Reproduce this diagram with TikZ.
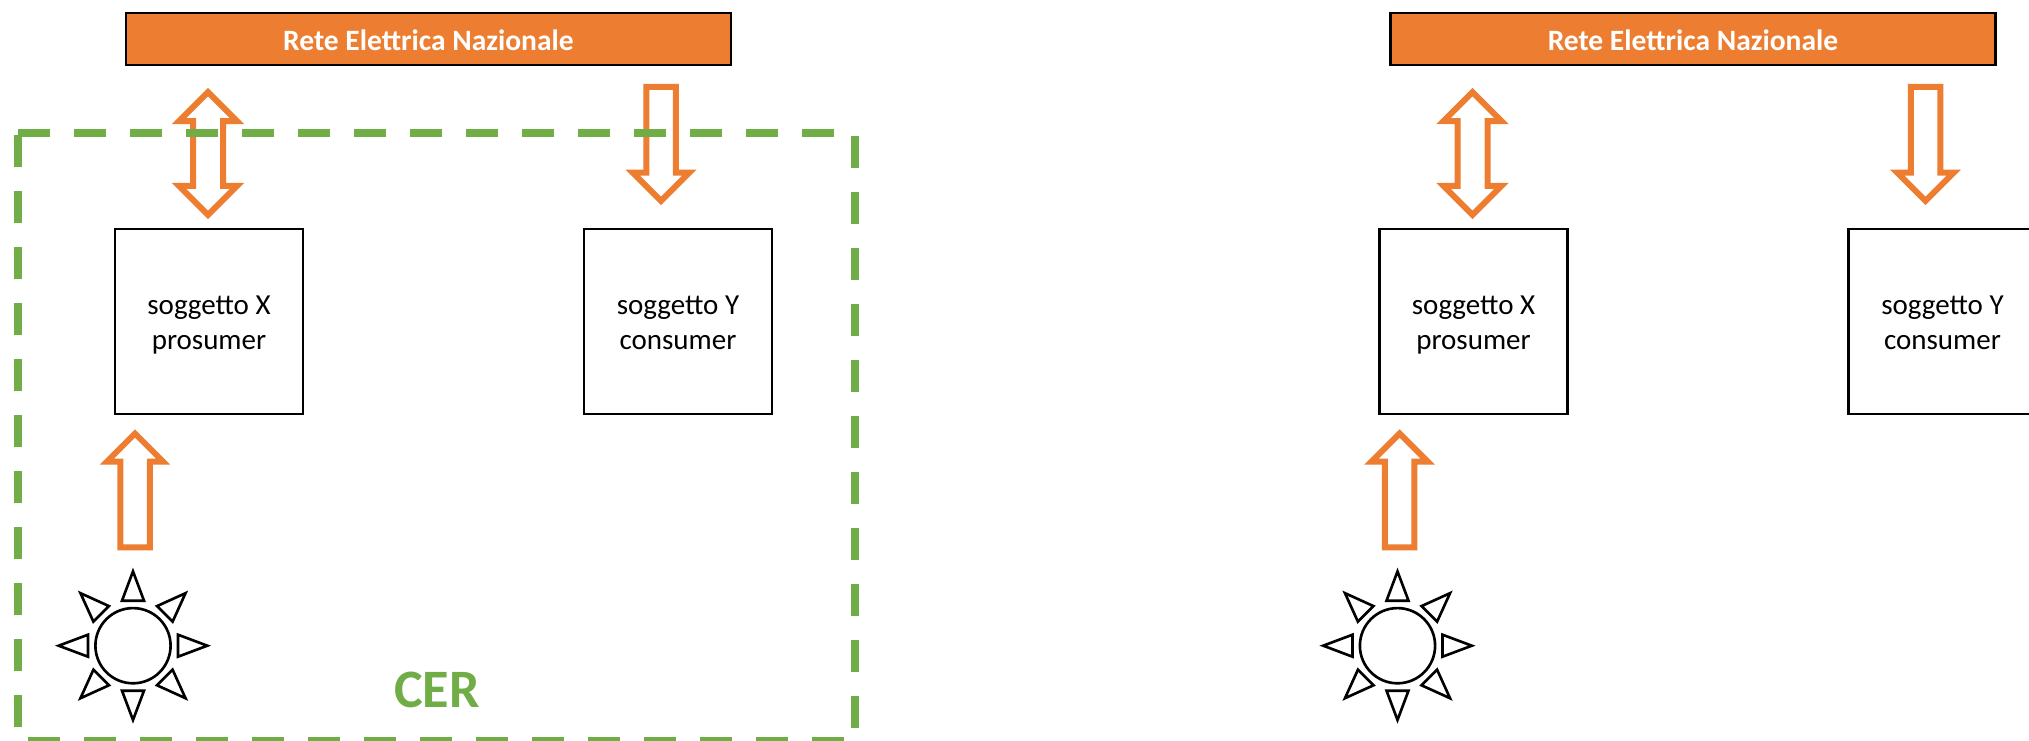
\documentclass[tikz,border=0pt]{standalone}
\usepackage{fontspec}
\setmainfont{Carlito}
\usepackage{xcolor}
\usetikzlibrary{shapes.arrows}
\definecolor{gridorange}{HTML}{ED7D31}
\definecolor{cergreen}{HTML}{70AD47}
\tikzset{
    gridbar/.style={rectangle, draw, line width=1.5pt, outer sep=0pt, fill=gridorange, text=white, minimum width=12.1cm, minimum height=1.04cm, text height=15pt, text depth=1.48pt, font=\fontsize{16.8}{20}\selectfont\bfseries},
    subject/.style={rectangle, draw, line width=1.5pt, outer sep=0pt, minimum width=3.76cm, minimum height=3.7cm, align=center, text height=33.5pt, text depth=1.48pt, font=\fontsize{16.5}{20}\selectfont},
    flowarrow/.style={single arrow, draw=gridorange, line width=0.12cm, outer sep=0pt, inner sep=0.235cm, anchor=tail, minimum height=2.276cm, single arrow head extend=0.27cm, single arrow tip angle=90},
    flowboth/.style={double arrow, draw=gridorange, line width=0.12cm, outer sep=0pt, inner sep=0.24cm, rotate=90, minimum height=2.452cm, double arrow head extend=0.28cm, double arrow tip angle=90},
    sundisc/.style={circle, draw, line width=1.5pt, outer sep=0pt, inner sep=0pt, minimum size=1.504cm},
    sunray/.style={draw, line width=1.5pt}
}

\begin{document}
\begin{tikzpicture}
    \useasboundingbox (0,0) rectangle (40.58,-14.82);

    \node (barL) at (8.57,-0.78) [gridbar] {Rete Elettrica Nazionale};
    \node (barR) at (33.86,-0.78) [gridbar] {Rete Elettrica Nazionale};

    \node (xL) at (4.18,-6.43) [subject] {soggetto X\\prosumer};
    \node (yL) at (13.56,-6.43) [subject] {soggetto Y\\consumer};
    \node (xR) at (29.47,-6.43) [subject] {soggetto X\\prosumer};
    \node (yR) at (38.85,-6.43) [subject] {soggetto Y\\consumer};

    \node (swapL) at (4.16,-3.07) [flowboth] {};
    \node (swapR) at (29.45,-3.07) [flowboth] {};
    \node (feedL) at (13.22,-1.74) [flowarrow, rotate=-90] {};
    \node (feedR) at (38.51,-1.74) [flowarrow, rotate=-90] {};
    \node (pvL) at (2.7,-10.946) [flowarrow, rotate=90] {};
    \node (pvR) at (27.99,-10.946) [flowarrow, rotate=90] {};

    \node (sunL) at (2.66,-12.914) [sundisc] {};
    \node (sunR) at (27.95,-12.914) [sundisc] {};
    \foreach \ang in {0,45,...,315} \draw [sunray, shift={(sunL.center)}, rotate=\ang] (0.9,0.22) -- (1.486,0) -- (0.9,-0.22) -- cycle;
    \foreach \ang in {0,45,...,315} \draw [sunray, shift={(sunR.center)}, rotate=\ang] (0.9,0.22) -- (1.486,0) -- (0.9,-0.22) -- cycle;

    \draw [cergreen, line width=0.16cm, dash pattern=on 0.64cm off 0.48cm] (0.36,-2.66) -- (17.1,-2.66) -- (17.1,-14.82) -- (0.36,-14.82) -- cycle;
    \node (cer) at (8.74,-14.16) [anchor=base, text=cergreen, font=\fontsize{30.8}{36}\selectfont\bfseries] {CER};
\end{tikzpicture}
\end{document}
